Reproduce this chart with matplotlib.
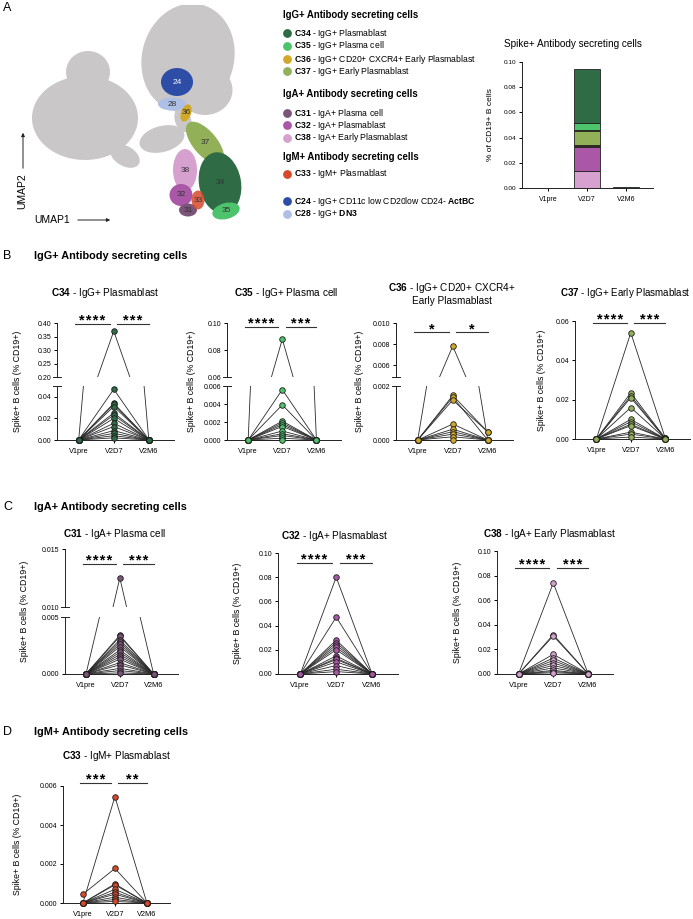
import numpy as np
import matplotlib
matplotlib.use('Agg')
import matplotlib.pyplot as plt
import matplotlib.transforms as mtransforms
from matplotlib.patches import Ellipse, Rectangle

plt.rcParams['font.family'] = ['Liberation Sans', 'DejaVu Sans']
plt.rcParams['mathtext.fontset'] = 'custom'
plt.rcParams['mathtext.rm'] = 'Liberation Sans'
plt.rcParams['mathtext.bf'] = 'Liberation Sans:bold'

# ---------------- data ----------------
visits = ['V1pre', 'V2D7', 'V2M6']

colors = {
    'C34': '#2F6B45', 'C35': '#4DC36B', 'C36': '#D1A828', 'C37': '#91B057',
    'C31': '#7B5579', 'C32': '#A957A6', 'C38': '#D6A0CF', 'C33': '#D8492B',
    'C24': '#2E4DA7', 'C28': '#AFC0E6',
}
umap_grey = '#C9C7C7'

# UMAP schematic: grey background populations (u1, u2, width, height, angle)
bg_u1 = [16.8, 18.5, 6.5, 6.8, 10.5, 14.2, 16.3]
bg_u2 = [17.2, 14.0, 11.2, 15.8, 7.4, 9.1, 11.0]
bg_w = [9.2, 5.5, 10.6, 4.4, 3.2, 4.6, 1.6]
bg_h = [11.0, 5.0, 8.4, 4.2, 2.0, 2.6, 2.5]
bg_ang = [-15, 0, 0, 0, -30, 15, 20]

# UMAP clusters
cl_names = ['24', '28', '36', '37', '38', '32', '31', '34', '35', '33']
cl_u1 = [15.7, 15.2, 16.6, 18.5, 16.5, 16.1, 16.8, 20.0, 20.6, 17.8]
cl_u2 = [14.8, 12.6, 11.7, 8.7, 6.0, 3.5, 2.0, 4.7, 1.9, 3.0]
cl_w = [3.2, 2.8, 1.0, 5.2, 2.4, 2.3, 1.8, 4.2, 2.8, 1.3]
cl_h = [2.8, 1.3, 1.8, 2.4, 4.2, 2.2, 1.3, 6.2, 1.6, 1.9]
cl_ang = [0, 0, -20, -50, 0, 0, 0, 10, 15, 0]

# legend
leg_headers = ['IgG+ Antibody secreting cells', 'IgA+ Antibody secreting cells',
               'IgM+ Antibody secreting cells']
leg_codes = ['C34', 'C35', 'C36', 'C37', 'C31', 'C32', 'C38', 'C33', 'C24', 'C28']
leg_desc = ['IgG+ Plasmablast', 'IgG+ Plasma cell', 'IgG+ CD20+ CXCR4+ Early Plasmablast',
            'IgG+ Early Plasmablast', 'IgA+ Plasma cell', 'IgA+ Plasmablast',
            'IgA+ Early Plasmablast', 'IgM+ Plasmablast',
            r'IgG+ CD11c low CD20low CD24- $\bf{ActBC}$', r'IgG+ $\bf{DN3}$']

# stacked bar (% of CD19+ B cells), stack order bottom -> top
bar_stack = ['C38', 'C32', 'C31', 'C33', 'C37', 'C36', 'C35', 'C34']
bar_v1pre = [0.0, 0.0, 0.0, 0.0, 0.0, 0.0, 0.0, 0.0]
bar_v2d7 = [0.0133, 0.0190, 0.0012, 0.0005, 0.0112, 0.0006, 0.0060, 0.0430]
bar_v2m6 = [0.0001, 0.0001, 0.0, 0.0, 0.0001, 0.00005, 0.0, 0.0002]

# paired data per cluster
c34_v1pre = [0.0003, 0.0002, 0.0002, 0.0001, 0.0001, 0.0001, 0.0, 0.0, 0.0, 0.0, 0.0, 0.0, 0.0, 0.0]
c34_v2d7 = [0.370, 0.047, 0.034, 0.033, 0.031, 0.025, 0.023, 0.020, 0.0155, 0.0125, 0.0087, 0.0062, 0.0040, 0.0020]
c34_v2m6 = [0.0004, 0.0003, 0.0002, 0.0002, 0.0001, 0.0001, 0.0001, 0.0, 0.0, 0.0, 0.0, 0.0, 0.0, 0.0]

c35_v1pre = [0.0, 0.0, 0.0, 0.0, 0.0, 0.0, 0.0, 0.0, 0.0, 0.0, 0.0, 0.0]
c35_v2d7 = [0.088, 0.0056, 0.0039, 0.0021, 0.0019, 0.0017, 0.0015, 0.0010, 0.0007, 0.0005, 0.0002, 0.0]
c35_v2m6 = [0.0, 0.0, 0.0, 0.0, 0.0, 0.0, 0.0, 0.0, 0.0, 0.0, 0.0, 0.0]

c36_v1pre = [0.0, 0.0, 0.0, 0.0, 0.0, 0.0, 0.0, 0.0, 0.0, 0.0]
c36_v2d7 = [0.0078, 0.00165, 0.00159, 0.00148, 0.00059, 0.00040, 0.00031, 0.00022, 0.00012, 0.0]
c36_v2m6 = [0.0, 0.0003, 0.0, 0.0003, 0.0, 0.0, 0.0, 0.0, 0.0, 0.0]

c37_v1pre = [0.0, 0.0, 0.0, 0.0, 0.0, 0.0, 0.0, 0.0, 0.0, 0.0, 0.0, 0.0]
c37_v2d7 = [0.054, 0.0235, 0.022, 0.021, 0.016, 0.010, 0.0088, 0.0075, 0.0068, 0.0035, 0.0025, 0.0010]
c37_v2m6 = [0.0005, 0.0004, 0.0003, 0.0002, 0.0002, 0.0001, 0.0, 0.0, 0.0, 0.0, 0.0, 0.0]

c31_v1pre = [0.0, 0.0, 0.0, 0.0, 0.0, 0.0, 0.0, 0.0, 0.0, 0.0, 0.0, 0.0, 0.0, 0.0, 0.0, 0.0, 0.0]
c31_v2d7 = [0.0125, 0.0034, 0.0033, 0.0030, 0.0028, 0.0026, 0.0024, 0.0021, 0.0019, 0.0017,
            0.0015, 0.0013, 0.0010, 0.0008, 0.0005, 0.0003, 0.0001]
c31_v2m6 = [0.0, 0.0, 0.0, 0.0, 0.0, 0.0, 0.0, 0.0, 0.0, 0.0, 0.0, 0.0, 0.0, 0.0, 0.0, 0.0, 0.0]

c32_v1pre = [0.0, 0.0, 0.0, 0.0, 0.0, 0.0, 0.0, 0.0, 0.0, 0.0, 0.0, 0.0, 0.0, 0.0]
c32_v2d7 = [0.080, 0.047, 0.028, 0.026, 0.024, 0.022, 0.020, 0.015, 0.013, 0.012, 0.010, 0.007, 0.004, 0.002]
c32_v2m6 = [0.0, 0.0, 0.0, 0.0, 0.0, 0.0, 0.0, 0.0, 0.0, 0.0, 0.0, 0.0, 0.0, 0.0]

c38_v1pre = [0.0, 0.0, 0.0, 0.0, 0.0, 0.0, 0.0, 0.0, 0.0, 0.0, 0.0, 0.0]
c38_v2d7 = [0.074, 0.032, 0.031, 0.016, 0.013, 0.011, 0.009, 0.007, 0.005, 0.003, 0.002, 0.001]
c38_v2m6 = [0.0005, 0.0004, 0.0003, 0.0002, 0.0001, 0.0, 0.0, 0.0, 0.0, 0.0, 0.0, 0.0]

c33_v1pre = [0.0, 0.00045, 0.0, 0.0, 0.0, 0.0, 0.0, 0.0, 0.0, 0.0]
c33_v2d7 = [0.00545, 0.00177, 0.00098, 0.00093, 0.00070, 0.00055, 0.00045, 0.00030, 0.00018, 0.00008]
c33_v2m6 = [0.0, 0.0, 0.0, 0.0, 0.0, 0.0, 0.0, 0.0, 0.0, 0.0]

# ---------------- figure helpers ----------------
W, H = 693, 919
fig = plt.figure(figsize=(W / 100, H / 100), dpi=100)
INK = '#222222'


def fx(px):
    return px / W


def fy(py):
    return 1 - py / H


def box(x0, y_top, x1, y_bot):
    return fig.add_axes([fx(x0), fy(y_bot), (x1 - x0) / W, (y_bot - y_top) / H])


ov = fig.add_axes([0, 0, 1, 1], zorder=10)
ov.set_xlim(0, W)
ov.set_ylim(H, 0)
ov.axis('off')

# ---------------- panel A: UMAP ----------------
ax_u = box(20, 5, 245, 230)
ax_u.set_xlim(0, 22.5)
ax_u.set_ylim(0, 22.5)
ax_u.axis('off')
for u1, u2, w, h, a in zip(bg_u1, bg_u2, bg_w, bg_h, bg_ang):
    ax_u.add_patch(Ellipse((u1, u2), w, h, angle=a, color=umap_grey, lw=0))
for n, u1, u2, w, h, a in zip(cl_names, cl_u1, cl_u2, cl_w, cl_h, cl_ang):
    ax_u.add_patch(Ellipse((u1, u2), w, h, angle=a, color=colors['C' + n], lw=0,
                           alpha=0.85 if n == '33' else 1))
    ax_u.text(u1, u2, n, ha='center', va='center', fontsize=6,
              color='white' if n == '24' else '#333333')

ov.text(3, 8, 'A', fontsize=9, ha='left', va='center')
ov.annotate('', xy=(23, 130), xytext=(23, 171),
            arrowprops=dict(arrowstyle='-|>', lw=0.7, color=INK, mutation_scale=5))
ov.text(22, 191, 'UMAP2', rotation=90, ha='center', va='center', fontsize=7.5)
ov.text(52, 220, 'UMAP1', ha='center', va='center', fontsize=7.5)
ov.annotate('', xy=(113, 220), xytext=(75, 220),
            arrowprops=dict(arrowstyle='-|>', lw=0.7, color=INK, mutation_scale=5))

# legend
for txt, py in zip(leg_headers, [15, 94, 157]):
    ov.text(283, py, txt, fontsize=6.9, fontweight='bold', ha='left', va='center')
for code, desc, py in zip(leg_codes, leg_desc, [33, 46, 59, 71, 113, 125, 138, 174, 201, 214]):
    ov.scatter([287], [py], s=40, color=colors[code], lw=0)
    ov.text(294, py, r'$\bf{%s}$ - ' % code + desc, fontsize=6.2, ha='left', va='center')

# stacked bar
ax_b = box(522, 62, 653, 188)
ax_b.patch.set_visible(False)
bottoms = np.zeros(3)
for k, code in enumerate(bar_stack):
    vals = np.array([bar_v1pre[k], bar_v2d7[k], bar_v2m6[k]])
    ax_b.bar(range(3), vals, width=0.66, bottom=bottoms, color=colors[code],
             edgecolor=INK, lw=0.6)
    bottoms += vals
ax_b.set_xlim(-0.67, 2.69)
ax_b.set_ylim(0, 0.10)
yt = [0.0, 0.02, 0.04, 0.06, 0.08, 0.10]
ax_b.set_yticks(yt)
ax_b.set_yticklabels(['%.2f' % t for t in yt])
ax_b.set_xticks(range(3))
ax_b.set_xticklabels(visits)
for s in ('top', 'right'):
    ax_b.spines[s].set_visible(False)
for s in ('left', 'bottom'):
    ax_b.spines[s].set_linewidth(0.7)
    ax_b.spines[s].set_color(INK)
ax_b.tick_params(axis='y', length=2.5, width=0.7, labelsize=4.6, pad=1.5)
ax_b.tick_params(axis='x', length=2.5, width=0.7, labelsize=5, pad=3)
ov.text(573, 44, 'Spike+ Antibody secreting cells', ha='center', va='center', fontsize=7.2)
ov.text(491, 125, '% of CD19+ B cells', rotation=90, ha='center', va='center', fontsize=6)

# ---------------- paired panels ----------------
XLIM = (-0.62, 2.72)


def style_axis(ax, lim, ticks, fmt):
    ax.set_xlim(*XLIM)
    ax.set_ylim(*lim)
    ax.set_yticks(ticks)
    ax.set_yticklabels([fmt % t for t in ticks])
    ax.patch.set_visible(False)
    for s in ('top', 'right'):
        ax.spines[s].set_visible(False)
    for s in ('left', 'bottom'):
        ax.spines[s].set_linewidth(0.7)
        ax.spines[s].set_color(INK)
    ax.tick_params(axis='y', length=2.5, width=0.7, labelsize=5, pad=1.5)
    ax.tick_params(axis='x', length=2.5, width=0.7, labelsize=5.3, pad=3)


def make_panel(x0, x1, ybot, lower, upper, vals, color):
    lo_lim, lo_ticks, lo_fmt, lo_top = lower
    ax_lo = box(x0, lo_top, x1, ybot)
    style_axis(ax_lo, lo_lim, lo_ticks, lo_fmt)
    ax_lo.set_xticks(range(3))
    ax_lo.set_xticklabels(visits)
    axes = [ax_lo]
    if upper is not None:
        hi_lim, hi_ticks, hi_fmt, hi_bot, hi_top = upper
        ax_hi = box(x0, hi_top, x1, hi_bot)
        style_axis(ax_hi, hi_lim, hi_ticks, hi_fmt)
        ax_hi.spines['bottom'].set_visible(False)
        ax_hi.set_xticks([])
        axes.append(ax_hi)
        wpx = (x1 - x0)
        for ax, yb in ((ax_lo, 1), (ax_hi, 0)):
            ax.plot([-4 / wpx, 4 / wpx], [yb, yb], transform=ax.transAxes,
                    color=INK, lw=0.7, clip_on=False)
    v1, v2, v3 = vals
    for i, ax in enumerate(axes):
        lo, hi = ax.get_ylim()
        if i == 0 and len(axes) > 1:
            clip = Rectangle((-0.3, -0.3), 1.6, 1.3, transform=ax.transAxes)
        else:
            clip = Rectangle((-0.3, 0 if i == 1 else -0.3), 1.6, 1.6, transform=ax.transAxes)
        for a, b, c in zip(v1, v2, v3):
            ln, = ax.plot([0, 1, 2], [a, b, c], color='#2a2a2a', lw=0.6, zorder=2)
            ln.set_clip_path(clip)
        for k, series in enumerate((v1, v2, v3)):
            sel = [v for v in series if lo - 1e-9 <= v <= hi + 1e-9]
            if sel:
                ax.plot(np.full(len(sel), k), sel, 'o', ms=4, mfc=color, mec='#1a1a1a',
                        mew=0.6, clip_on=False, zorder=3)
    return axes[-1]


def add_sig(ax, line_py, stars):
    tr = mtransforms.blended_transform_factory(ax.transData, fig.transFigure)
    for (xa, xb), txt in zip([(-0.1, 0.88), (1.1, 2.0)], stars):
        ax.plot([xa, xb], [fy(line_py), fy(line_py)], transform=tr, color='#333333',
                lw=0.8, clip_on=False)
        ax.text((xa + xb) / 2, fy(line_py + 1), '\u200a'.join(txt), transform=tr,
                ha='center', va='baseline', fontsize=10.5, fontweight='bold')


def titles(cx, cy, txt, ylab_x, y_top, y_bot, size=7.2):
    ov.text(cx, cy, txt, ha='center', va='center', fontsize=size)
    ov.text(ylab_x, (y_top + y_bot) / 2, 'Spike+ B cells (% CD19+)', rotation=90,
            ha='center', va='center', fontsize=6.3)


# section headers
for letter, py, txt in [('B', 256, 'IgG+ Antibody secreting cells'),
                        ('C', 507, 'IgA+ Antibody secreting cells'),
                        ('D', 732, 'IgM+ Antibody secreting cells')]:
    ov.text(3, py, letter, fontsize=9, ha='left', va='center')
    ov.text(34, py, txt, fontsize=7.8, fontweight='bold', ha='left', va='center')

# C34
t = make_panel(57, 174, 440, ((0, 0.05), [0, 0.02, 0.04], '%.2f', 386),
               ((0.20, 0.40), [0.20, 0.25, 0.30, 0.35, 0.40], '%.2f', 377, 323),
               (c34_v1pre, c34_v2d7, c34_v2m6), colors['C34'])
add_sig(t, 324, ('****', '***'))
titles(105, 293, r'$\bf{C34}$ - IgG+ Plasmablast', 18, 323, 440)

# C35
t = make_panel(227, 341, 440, ((0, 0.006), [0, 0.002, 0.004, 0.006], '%.3f', 386),
               ((0.06, 0.10), [0.06, 0.08, 0.10], '%.2f', 377, 323),
               (c35_v1pre, c35_v2d7, c35_v2m6), colors['C35'])
add_sig(t, 327, ('****', '***'))
titles(286, 293, r'$\bf{C35}$ - IgG+ Plasma cell', 191, 323, 440)

# C36
t = make_panel(396, 513, 440, ((0, 0.002), [0, 0.002], '%.3f', 386),
               ((0.00486, 0.010), [0.006, 0.008, 0.010], '%.3f', 377, 323),
               (c36_v1pre, c36_v2d7, c36_v2m6), colors['C36'])
add_sig(t, 332, ('*', '*'))
titles(452, 288, r'$\bf{C36}$ - IgG+ CD20+ CXCR4+', 360, 323, 440)
ov.text(452, 300.5, 'Early Plasmablast', ha='center', va='center', fontsize=7.2)

# C37
t = make_panel(575, 690, 439, ((0, 0.06), [0, 0.02, 0.04, 0.06], '%.2f', 321), None,
               (c37_v1pre, c37_v2d7, c37_v2m6), colors['C37'])
add_sig(t, 323, ('****', '***'))
titles(625, 293, r'$\bf{C37}$ - IgG+ Early Plasmablast', 542, 321, 439, size=7.0)

# C31
t = make_panel(65, 178, 674, ((0, 0.005), [0, 0.005], '%.3f', 617),
               ((0.010, 0.015), [0.010, 0.015], '%.3f', 607, 549),
               (c31_v1pre, c31_v2d7, c31_v2m6), colors['C31'])
add_sig(t, 564, ('****', '***'))
titles(115, 534, r'$\bf{C31}$ - IgA+ Plasma cell', 25, 549, 674)

# C32
yt10 = [0, 0.02, 0.04, 0.06, 0.08, 0.10]
t = make_panel(278, 398, 674, ((0, 0.10), yt10, '%.2f', 553), None,
               (c32_v1pre, c32_v2d7, c32_v2m6), colors['C32'])
add_sig(t, 563, ('****', '***'))
titles(335, 536, r'$\bf{C32}$ - IgA+ Plasmablast', 237, 553, 674)

# C38
t = make_panel(497, 613, 674, ((0, 0.10), yt10, '%.2f', 551), None,
               (c38_v1pre, c38_v2d7, c38_v2m6), colors['C38'])
add_sig(t, 568, ('****', '***'))
titles(549, 534, r'$\bf{C38}$ - IgA+ Early Plasmablast', 458, 551, 674)

# C33
t = make_panel(63, 170, 903, ((0, 0.006), [0, 0.002, 0.004, 0.006], '%.3f', 786), None,
               (c33_v1pre, c33_v2d7, c33_v2m6), colors['C33'])
add_sig(t, 783, ('***', '**'))
titles(116, 756, r'$\bf{C33}$ - IgM+ Plasmablast', 18, 786, 903)

fig.savefig('out.png', dpi=100)
